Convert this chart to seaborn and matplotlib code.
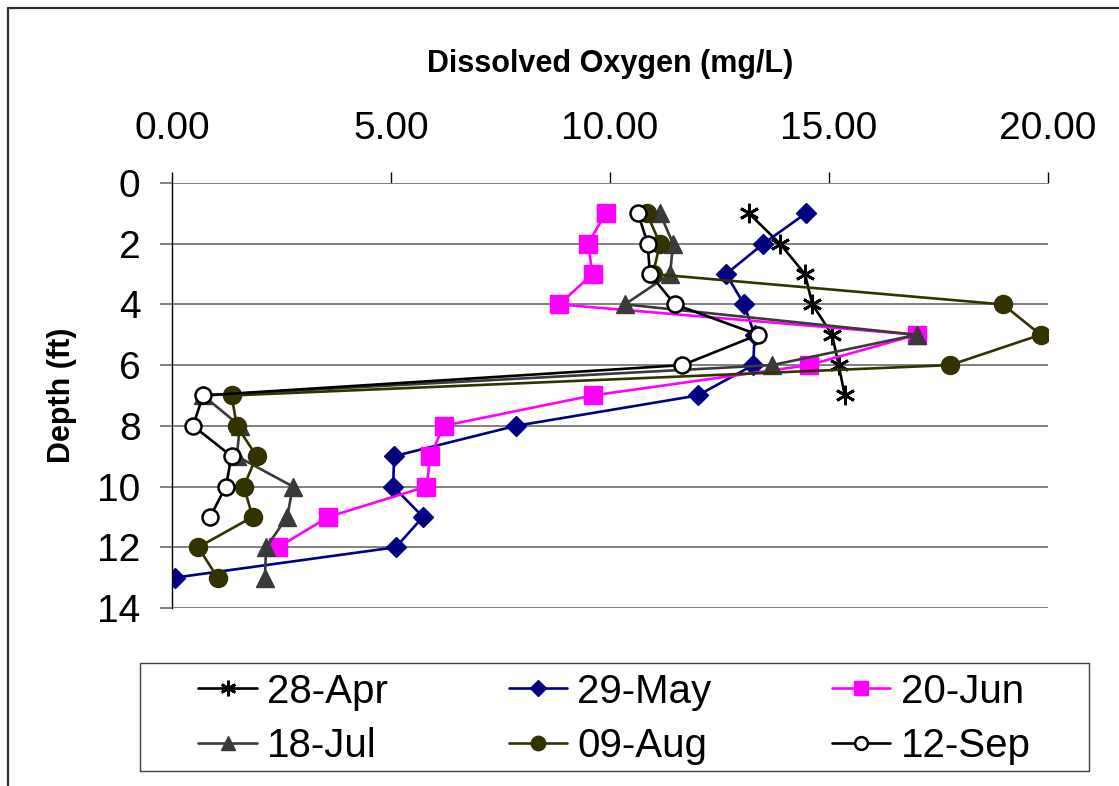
import matplotlib
matplotlib.use("Agg")
import matplotlib.pyplot as plt
from matplotlib.lines import Line2D
from matplotlib.patches import Rectangle
import seaborn as sns

# Dissolved oxygen profiles (mg/L) by depth (ft) for each sampling date
depth_apr = [1, 2, 3, 4, 5, 6, 7]
do_apr = [13.17, 13.88, 14.45, 14.62, 15.07, 15.22, 15.36]

depth_may = [1, 2, 3, 4, 5, 6, 7, 8, 9, 10, 11, 12, 13]
do_may = [14.47, 13.50, 12.65, 13.06, 13.30, 13.27, 12.00, 7.85, 5.07, 5.05, 5.73, 5.11, 0.07]

depth_jun = [1, 2, 3, 4, 5, 6, 7, 8, 9, 10, 11, 12]
do_jun = [9.90, 9.50, 9.60, 8.84, 17.00, 14.54, 9.60, 6.20, 5.90, 5.81, 3.57, 2.43]

depth_jul = [1, 2, 3, 4, 5, 6, 7, 8, 9, 10, 11, 12, 13]
do_jul = [11.14, 11.44, 11.37, 10.34, 17.00, 13.70, 0.71, 1.55, 1.48, 2.76, 2.63, 2.15, 2.12]

depth_aug = [1, 2, 3, 4, 5, 6, 7, 8, 9, 10, 11, 12, 13]
do_aug = [10.84, 11.14, 10.98, 18.97, 19.83, 17.76, 1.36, 1.48, 1.93, 1.64, 1.84, 0.60, 1.04]

depth_sep = [1, 2, 3, 4, 5, 6, 7, 8, 9, 10, 11]
do_sep = [10.64, 10.86, 10.91, 11.48, 13.38, 11.65, 0.71, 0.48, 1.36, 1.23, 0.87]

dates = ["28-Apr", "29-May", "20-Jun", "18-Jul", "09-Aug", "12-Sep"]
x_ticks = [0, 5, 10, 15, 20]
x_tick_labels = ["0.00", "5.00", "10.00", "15.00", "20.00"]
y_ticks = [0, 2, 4, 6, 8, 10, 12, 14]

sns.set_theme(style="white")
plt.rcParams["font.family"] = ["Liberation Sans", "DejaVu Sans"]
plt.rcParams["text.color"] = "black"
plt.rcParams["axes.labelcolor"] = "black"
plt.rcParams["xtick.labelcolor"] = "black"
plt.rcParams["ytick.labelcolor"] = "black"

fig = plt.figure(figsize=(11.19, 7.86), dpi=100)
ax = fig.add_axes([0.1537, 0.2265, 0.9366 - 0.1537, 0.7672 - 0.2265])

series = [
    (do_apr, depth_apr, dict(color="black", marker=(6, 2, 0), markersize=14,
                             markeredgecolor="black", markeredgewidth=2.0)),
    (do_may, depth_may, dict(color="#000080", marker="D", markersize=10,
                             markeredgecolor="#000080", markeredgewidth=1.0)),
    (do_jun, depth_jun, dict(color="#FF00FF", marker="s", markersize=12.5,
                             markeredgecolor="#FF00FF", markeredgewidth=1.0)),
    (do_jul, depth_jul, dict(color="#3A3A3A", marker="^", markersize=13,
                             markeredgecolor="#3A3A3A", markeredgewidth=1.0)),
    (do_aug, depth_aug, dict(color="#333300", marker="o", markersize=13,
                             markeredgecolor="#333300", markeredgewidth=1.0)),
    (do_sep, depth_sep, dict(color="black", marker="o", markersize=11.5,
                             markerfacecolor="white", markeredgecolor="black",
                             markeredgewidth=1.8)),
]

for (vals, deps, style), name in zip(series, dates):
    sns.lineplot(x=vals, y=deps, ax=ax, orient="y", sort=False, estimator=None,
                 linewidth=1.9, label=name, **style)

# Axes: oxygen on top, depth increasing downward
ax.set_xlim(0, 20)
ax.set_ylim(14, 0)
ax.xaxis.tick_top()
ax.set_xticks(x_ticks)
ax.set_xticklabels(x_tick_labels)
ax.set_yticks(y_ticks)

for side in ["top", "right", "bottom"]:
    ax.spines[side].set_visible(False)
ax.spines["left"].set_color("black")
ax.spines["left"].set_linewidth(1.0)

ax.yaxis.grid(True, color="#808080", linewidth=1.4)
ax.xaxis.grid(False)
ax.set_axisbelow(True)

ax.tick_params(axis="x", top=True, bottom=False, direction="out", length=8,
               width=1.0, color="black", labelsize=28, pad=18)
ax.tick_params(axis="y", left=True, direction="out", length=8.6, width=1.4,
               color="#808080", labelsize=28, pad=14)

ax.set_xlabel("Dissolved Oxygen (mg/L)", fontsize=22, fontweight="bold")
ax.xaxis.set_label_position("top")
ax.xaxis.set_label_coords(0.5, 1.28)
ax.xaxis.label.set_va("center")

ax.set_ylabel("Depth (ft)", fontsize=22, fontweight="bold")
ax.yaxis.set_label_coords(-0.1256, 0.5)
ax.yaxis.label.set_va("center")

# Legend in a framed box below the plot, entries read across rows
handles, labels = ax.get_legend_handles_labels()
ax.get_legend().remove()
order = [0, 3, 1, 4, 2, 5]
fig.patches.append(Rectangle((140 / 1119, 1 - 771 / 786), 949 / 1119, 108 / 786,
                             transform=fig.transFigure, fill=False,
                             edgecolor="#404040", linewidth=1.0))
fig.legend([handles[i] for i in order], [labels[i] for i in order], ncol=3,
           loc="center", bbox_to_anchor=(614.5 / 1119, 1 - 719 / 786),
           frameon=False, fontsize=29, handlelength=1.45, handletextpad=0.25,
           columnspacing=3.0, labelspacing=0.42, markerscale=0.8)

# Outer chart frame (top and left edges)
fig.lines.append(Line2D([8 / 1119, 1.0], [1 - 8 / 786, 1 - 8 / 786],
                        transform=fig.transFigure, color="#303030", linewidth=1.6))
fig.lines.append(Line2D([8 / 1119, 8 / 1119], [0.0, 1 - 8 / 786],
                        transform=fig.transFigure, color="#303030", linewidth=1.6))

fig.savefig("out.png", dpi=100, facecolor="white")
